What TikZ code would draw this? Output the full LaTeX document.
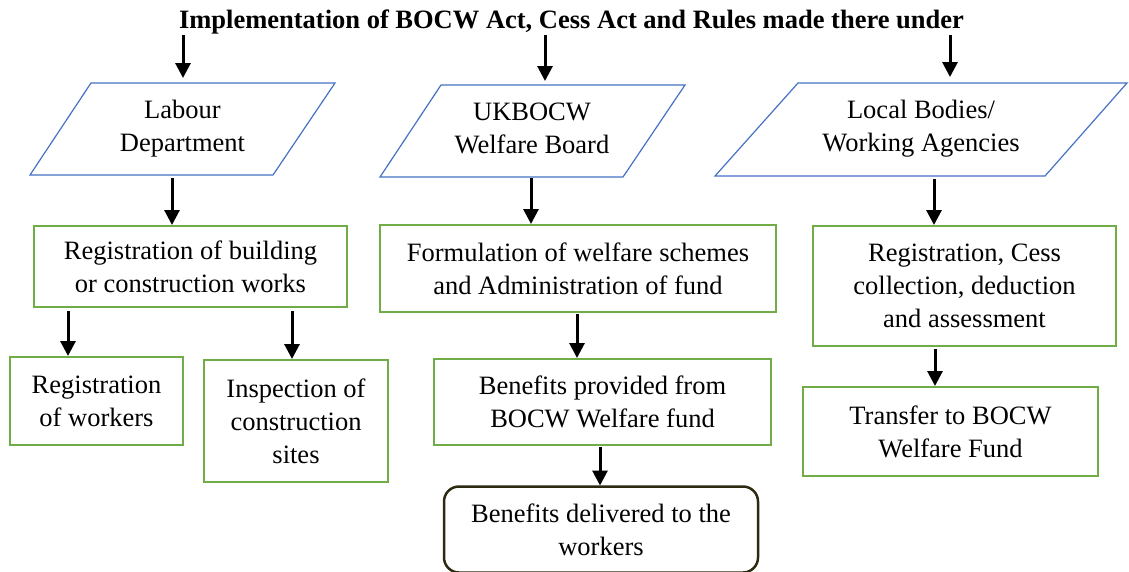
\documentclass[tikz,border=0pt]{standalone}
\usepackage{fontspec}
\setmainfont{Liberation Serif}
\usetikzlibrary{arrows.meta}
\definecolor{pblue}{HTML}{4472C4}
\definecolor{bgreen}{HTML}{70AD47}
\definecolor{dbrown}{HTML}{2E2A12}
\begin{document}
\begin{tikzpicture}[x=1pt,y=-1pt,
  every node/.style={font=\fontsize{26.5}{33}\selectfont, align=center, inner sep=0pt, outer sep=0pt},
  gbox/.style={draw=bgreen, line width=2.5pt},
  rbox/.style={draw=dbrown, line width=2.5pt, rounded corners=15pt},
  para/.style={draw=pblue, line width=1.2pt, line join=miter},
  arr/.style={draw=black, line width=3pt, -{Triangle[width=15pt,length=15pt]}, shorten >=1pt}]
\useasboundingbox (0,0) rectangle (1129,571);
\fill[white] (0,0) rectangle (1129,571);

% title
\node[font=\fontsize{26.5}{33}\selectfont\bfseries, anchor=base] (title) at (571.5,28)
  {Implementation of BOCW Act, Cess Act and Rules made there under};

% parallelograms
\draw[para] (91,83) -- (335,83) -- (273,175) -- (30,175) -- cycle;
\draw[para] (441,85) -- (685,85) -- (623,177) -- (380,177) -- cycle;
\draw[para] (798,83) -- (1127,83) -- (1045,176) -- (715,176) -- cycle;
\node (labour) at (182.5,128.5) {Labour\\Department};
\node (board) at (532,128) {UKBOCW\\Welfare Board};
\node (local) at (921,129) {Local Bodies/\\Working Agencies};

% boxes
\node[gbox, minimum width=313pt, minimum height=81pt] (regbuild) at (190.5,266.5)
  {Registration of building\\or construction works};
\node[gbox, minimum width=396pt, minimum height=87pt] (formul) at (578,268.5)
  {Formulation of welfare schemes\\and Administration of fund};
\node[gbox, minimum width=303pt, minimum height=120pt] (regcess) at (964.5,286)
  {Registration, Cess\\collection, deduction\\and assessment};
\node[gbox, minimum width=173pt, minimum height=88pt] (regworkers) at (96.5,401)
  {Registration\\of workers};
\node[gbox, minimum width=184pt, minimum height=122pt] (inspect) at (296,421)
  {Inspection of\\construction\\sites};
\node[gbox, minimum width=337pt, minimum height=86pt] (benprov) at (602.5,402)
  {Benefits provided from\\BOCW Welfare fund};
\node[rbox, minimum width=314pt, minimum height=86pt] (bendel) at (601,529.5)
  {Benefits delivered to the\\workers};
\node[gbox, minimum width=295pt, minimum height=89pt] (transfer) at (950.5,431.5)
  {Transfer to BOCW\\Welfare Fund};

% arrow columns and free ends
\coordinate (t1) at (183,35);  \coordinate (p1) at (183,79);
\coordinate (t2) at (545,35);  \coordinate (p2) at (545,82);
\coordinate (t3) at (950,35);  \coordinate (p3) at (950,78);
\coordinate (b1) at (172,178);
\coordinate (b2) at (531,178);
\coordinate (b3) at (934,179);
\coordinate (c1) at (68,0);
\coordinate (c2) at (292,0);
\coordinate (c3) at (577,0);
\coordinate (c4) at (600,0);
\coordinate (c5) at (935,0);

% connectors
\draw[arr] (t1) -- (p1);
\draw[arr] (t2) -- (p2);
\draw[arr] (t3) -- (p3);
\draw[arr] (b1) -- (regbuild.north -| b1);
\draw[arr] (b2) -- (formul.north -| b2);
\draw[arr] (b3) -- (regcess.north -| b3);
\draw[arr] ([yshift=-4pt]regbuild.south -| c1) -- (regworkers.north -| c1);
\draw[arr] ([yshift=-4pt]regbuild.south -| c2) -- (inspect.north -| c2);
\draw[arr] ([yshift=-2pt]formul.south -| c3) -- (benprov.north -| c3);
\draw[arr] ([yshift=-2pt]benprov.south -| c4) -- (bendel.north -| c4);
\draw[arr] ([yshift=-3pt]regcess.south -| c5) -- (transfer.north -| c5);
\end{tikzpicture}
\end{document}
